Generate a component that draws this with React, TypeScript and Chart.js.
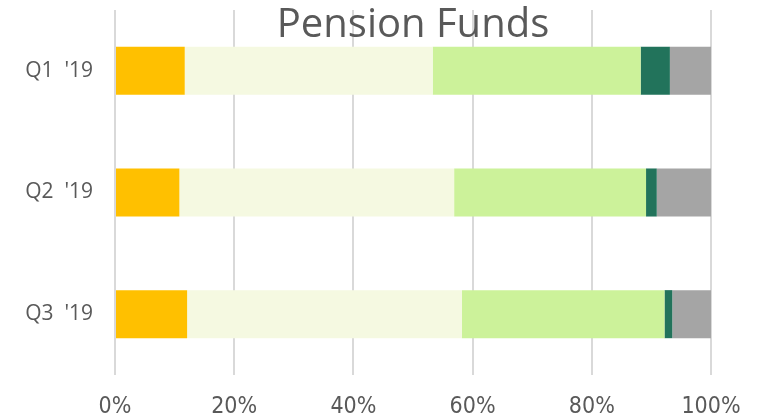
import React, { useEffect, useRef } from "react";
import { Chart, registerables } from "chart.js";

Chart.register(...registerables);

const categories = ["Q1  '19", "Q2  '19", "Q3  '19"];
const seriesNames = ["Series 1", "Series 2", "Series 3", "Series 4", "Series 5"];
const series1 = [11.7, 10.8, 12.1];
const series2 = [41.6, 46.1, 46.1];
const series3 = [34.9, 32.2, 34.0];
const series4 = [4.9, 1.8, 1.3];
const series5 = [6.9, 9.1, 6.5];
const colors = ["#FFC000", "#F5F9E1", "#CCF29A", "#22735B", "#A5A5A5"];
const xTicks = [0, 20, 40, 60, 80, 100];
const titleText = "Pension Funds";

export default function App() {
  const ref = useRef<HTMLCanvasElement | null>(null);

  useEffect(() => {
    document.body.style.margin = "0";
    const canvas = ref.current;
    if (!canvas) return;
    const allSeries = [series1, series2, series3, series4, series5];

    const titlePlugin = {
      id: "overTitle",
      afterDraw(chart: any) {
        const { ctx, chartArea } = chart;
        ctx.save();
        ctx.font = '40px "Open Sans", sans-serif';
        ctx.fillStyle = "#595959";
        ctx.textAlign = "center";
        ctx.textBaseline = "alphabetic";
        ctx.fillText(titleText, (chartArea.left + chartArea.right) / 2, 37);
        ctx.restore();
      },
    };

    const zeroPad = (scale: any) => {
      scale.paddingTop = 0;
      scale.paddingBottom = 0;
      scale.paddingLeft = 0;
      scale.paddingRight = 0;
    };

    const chart = new Chart(canvas, {
      type: "bar",
      data: {
        labels: categories,
        datasets: allSeries.map((d, i) => ({
          label: seriesNames[i],
          data: d,
          backgroundColor: colors[i],
          borderWidth: 0,
          categoryPercentage: 1,
          barPercentage: 0.395,
        })),
      },
      options: {
        indexAxis: "y",
        animation: false,
        responsive: false,
        maintainAspectRatio: false,
        layout: { padding: { left: 0, right: 54, top: 10, bottom: 0 } },
        plugins: {
          legend: { display: false },
          title: { display: false },
          tooltip: { enabled: false },
        },
        scales: {
          x: {
            stacked: true,
            min: 0,
            max: 100,
            afterBuildTicks(scale: any) {
              scale.ticks = xTicks.map((v) => ({ value: v }));
            },
            afterFit(scale: any) {
              scale.height = 43;
              zeroPad(scale);
            },
            grid: {
              color: "#D9D9D9",
              lineWidth: 2,
              drawTicks: false,
            },
            border: { display: false },
            ticks: {
              padding: 18,
              color: "#595959",
              font: { family: '"Liberation Sans Narrow", "DejaVu Sans", sans-serif', size: 23, weight: "condensed" as any },
              callback: (v: any) => v + "%",
            },
          },
          y: {
            stacked: true,
            afterFit(scale: any) {
              scale.width = 115;
              zeroPad(scale);
            },
            grid: { display: false, drawTicks: false },
            border: { display: false },
            ticks: {
              padding: 22,
              color: "#595959",
              font: { family: '"Open Sans", sans-serif', size: 21 },
            },
          },
        },
      },
      plugins: [titlePlugin],
    });
    return () => chart.destroy();
  }, []);

  return (
    <div style={{ position: "absolute", left: 0, top: 0, width: 765, height: 418 }}>
      <canvas ref={ref} width={765} height={418} style={{ width: 765, height: 418 }} />
    </div>
  );
}
